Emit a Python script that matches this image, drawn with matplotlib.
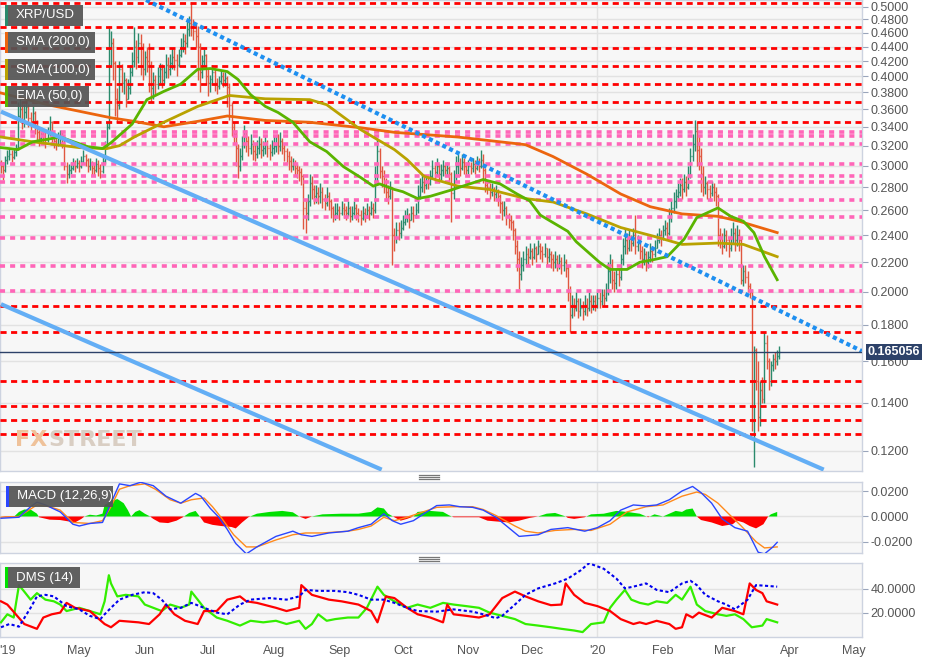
import numpy as np
import matplotlib
matplotlib.use("Agg")
import matplotlib.pyplot as plt
from matplotlib.collections import LineCollection
from matplotlib.patches import Rectangle
from matplotlib.lines import Line2D
from matplotlib.ticker import NullLocator

plt.rcParams['font.family'] = ['Liberation Sans', 'DejaVu Sans']

# ------------------------------------------------------------
# Daily XRP/USD bars, day 0 = 2019-03-25 (open = previous close)
# ------------------------------------------------------------
START = '2019-03-25'
first_open = 0.304
closes = [
    0.300, 0.296, 0.306, 0.310, 0.312, 0.309, 0.314, 0.318, 0.352, 0.360,
    0.348, 0.356, 0.362, 0.350, 0.342, 0.355, 0.346, 0.334, 0.328, 0.332,
    0.330, 0.326, 0.334, 0.345, 0.332, 0.325, 0.322, 0.328, 0.330, 0.326,
    0.300, 0.292, 0.296, 0.298, 0.302, 0.300, 0.303, 0.300, 0.305, 0.310,
    0.306, 0.300, 0.303, 0.298, 0.296, 0.302, 0.298, 0.295, 0.305, 0.318,
    0.340, 0.438, 0.445, 0.418, 0.372, 0.365, 0.410, 0.392, 0.395, 0.372,
    0.385, 0.405, 0.420, 0.440, 0.425, 0.445, 0.440, 0.410, 0.425, 0.420,
    0.415, 0.385, 0.395, 0.390, 0.400, 0.410, 0.395, 0.405, 0.415, 0.410,
    0.418, 0.425, 0.422, 0.415, 0.428, 0.440, 0.448, 0.445, 0.465, 0.475,
    0.470, 0.462, 0.455, 0.440, 0.405, 0.420, 0.428, 0.400, 0.392, 0.396,
    0.405, 0.392, 0.388, 0.394, 0.400, 0.395, 0.398, 0.386, 0.365, 0.340,
    0.332, 0.318, 0.300, 0.310, 0.322, 0.330, 0.325, 0.318, 0.322, 0.315,
    0.312, 0.318, 0.322, 0.316, 0.318, 0.322, 0.318, 0.314, 0.318, 0.320,
    0.322, 0.320, 0.325, 0.318, 0.315, 0.310, 0.305, 0.300, 0.302, 0.298,
    0.296, 0.294, 0.290, 0.262, 0.258, 0.268, 0.284, 0.278, 0.272, 0.275,
    0.272, 0.276, 0.270, 0.266, 0.272, 0.268, 0.262, 0.256, 0.258, 0.260,
    0.258, 0.262, 0.260, 0.258, 0.262, 0.255, 0.258, 0.262, 0.258, 0.256,
    0.254, 0.258, 0.256, 0.260, 0.258, 0.262, 0.260, 0.290, 0.315, 0.295,
    0.290, 0.282, 0.276, 0.272, 0.280, 0.240, 0.238, 0.244, 0.242, 0.246,
    0.250, 0.254, 0.256, 0.252, 0.258, 0.256, 0.260, 0.272, 0.280, 0.285,
    0.282, 0.285, 0.284, 0.290, 0.298, 0.294, 0.300, 0.292, 0.296, 0.300,
    0.296, 0.298, 0.292, 0.275, 0.290, 0.300, 0.302, 0.298, 0.304, 0.300,
    0.296, 0.300, 0.298, 0.302, 0.298, 0.304, 0.300, 0.306, 0.296, 0.282,
    0.280, 0.276, 0.278, 0.274, 0.276, 0.272, 0.266, 0.260, 0.262, 0.256,
    0.252, 0.250, 0.244, 0.232, 0.222, 0.212, 0.218, 0.222, 0.226, 0.224,
    0.228, 0.224, 0.230, 0.226, 0.232, 0.228, 0.226, 0.230, 0.224, 0.226,
    0.222, 0.220, 0.222, 0.219, 0.221, 0.218, 0.220, 0.216, 0.200, 0.186,
    0.192, 0.190, 0.194, 0.188, 0.190, 0.188, 0.192, 0.190, 0.194, 0.192,
    0.194, 0.192, 0.196, 0.194, 0.198, 0.196, 0.200, 0.214, 0.218, 0.208,
    0.206, 0.212, 0.210, 0.222, 0.232, 0.236, 0.230, 0.238, 0.234, 0.240,
    0.232, 0.236, 0.228, 0.222, 0.226, 0.220, 0.224, 0.228, 0.226, 0.230,
    0.236, 0.240, 0.238, 0.244, 0.246, 0.242, 0.254, 0.262, 0.268, 0.272,
    0.276, 0.282, 0.278, 0.285, 0.280, 0.292, 0.310, 0.322, 0.335, 0.316,
    0.310, 0.292, 0.280, 0.284, 0.278, 0.275, 0.280, 0.276, 0.272, 0.240,
    0.238, 0.232, 0.240, 0.236, 0.230, 0.238, 0.242, 0.236, 0.240, 0.236,
    0.208, 0.214, 0.210, 0.204, 0.200, 0.132, 0.166, 0.150, 0.134, 0.146,
    0.142, 0.170, 0.160, 0.150, 0.158, 0.161, 0.160, 0.163, 0.165,
]
highs = [
    0.306, 0.304, 0.310, 0.316, 0.318, 0.316, 0.318, 0.322, 0.368, 0.372,
    0.368, 0.366, 0.370, 0.366, 0.356, 0.364, 0.358, 0.348, 0.338, 0.340,
    0.336, 0.334, 0.340, 0.352, 0.346, 0.334, 0.330, 0.334, 0.336, 0.334,
    0.322, 0.304, 0.302, 0.304, 0.308, 0.306, 0.308, 0.306, 0.310, 0.316,
    0.312, 0.308, 0.308, 0.305, 0.303, 0.308, 0.306, 0.302, 0.312, 0.325,
    0.345, 0.470, 0.462, 0.452, 0.420, 0.385, 0.420, 0.416, 0.405, 0.398,
    0.396, 0.415, 0.432, 0.468, 0.450, 0.460, 0.458, 0.445, 0.434, 0.440,
    0.445, 0.420, 0.405, 0.402, 0.412, 0.418, 0.416, 0.412, 0.430, 0.425,
    0.430, 0.438, 0.436, 0.430, 0.436, 0.452, 0.460, 0.458, 0.478, 0.485,
    0.508, 0.480, 0.475, 0.470, 0.445, 0.428, 0.436, 0.430, 0.410, 0.402,
    0.415, 0.410, 0.398, 0.400, 0.408, 0.405, 0.406, 0.400, 0.392, 0.368,
    0.345, 0.336, 0.322, 0.318, 0.330, 0.342, 0.336, 0.330, 0.332, 0.326,
    0.322, 0.326, 0.330, 0.328, 0.325, 0.330, 0.326, 0.322, 0.326, 0.330,
    0.330, 0.332, 0.334, 0.328, 0.322, 0.318, 0.315, 0.310, 0.308, 0.306,
    0.302, 0.300, 0.298, 0.292, 0.270, 0.274, 0.292, 0.290, 0.282, 0.282,
    0.280, 0.284, 0.280, 0.274, 0.280, 0.276, 0.270, 0.264, 0.266, 0.266,
    0.264, 0.268, 0.266, 0.264, 0.268, 0.264, 0.264, 0.268, 0.265, 0.262,
    0.260, 0.264, 0.262, 0.266, 0.264, 0.268, 0.266, 0.300, 0.328, 0.318,
    0.300, 0.296, 0.288, 0.282, 0.286, 0.278, 0.246, 0.250, 0.250, 0.252,
    0.256, 0.260, 0.262, 0.258, 0.264, 0.264, 0.266, 0.282, 0.288, 0.292,
    0.292, 0.290, 0.290, 0.296, 0.306, 0.304, 0.308, 0.302, 0.302, 0.306,
    0.302, 0.304, 0.300, 0.294, 0.296, 0.310, 0.312, 0.308, 0.312, 0.308,
    0.304, 0.306, 0.304, 0.308, 0.306, 0.310, 0.308, 0.316, 0.312, 0.298,
    0.286, 0.284, 0.284, 0.280, 0.282, 0.278, 0.274, 0.268, 0.268, 0.264,
    0.258, 0.256, 0.252, 0.246, 0.236, 0.228, 0.224, 0.228, 0.232, 0.230,
    0.234, 0.230, 0.234, 0.232, 0.236, 0.234, 0.232, 0.234, 0.230, 0.230,
    0.228, 0.226, 0.228, 0.225, 0.226, 0.224, 0.226, 0.222, 0.218, 0.204,
    0.198, 0.196, 0.200, 0.196, 0.196, 0.194, 0.198, 0.196, 0.200, 0.198,
    0.198, 0.198, 0.200, 0.200, 0.202, 0.202, 0.206, 0.220, 0.226, 0.222,
    0.214, 0.216, 0.216, 0.226, 0.238, 0.246, 0.242, 0.244, 0.240, 0.246,
    0.256, 0.240, 0.238, 0.232, 0.230, 0.228, 0.228, 0.234, 0.232, 0.236,
    0.242, 0.246, 0.244, 0.248, 0.252, 0.250, 0.262, 0.270, 0.276, 0.278,
    0.284, 0.288, 0.288, 0.292, 0.290, 0.300, 0.318, 0.332, 0.348, 0.345,
    0.330, 0.318, 0.300, 0.290, 0.286, 0.282, 0.286, 0.284, 0.280, 0.274,
    0.246, 0.242, 0.246, 0.244, 0.238, 0.246, 0.250, 0.246, 0.248, 0.245,
    0.238, 0.218, 0.218, 0.214, 0.206, 0.202, 0.168, 0.167, 0.160, 0.150,
    0.152, 0.176, 0.174, 0.162, 0.160, 0.164, 0.165, 0.166, 0.168,
]
lows = [
    0.293, 0.287, 0.294, 0.302, 0.306, 0.304, 0.307, 0.310, 0.316, 0.345,
    0.338, 0.340, 0.350, 0.340, 0.334, 0.340, 0.332, 0.326, 0.320, 0.324,
    0.322, 0.318, 0.324, 0.330, 0.322, 0.318, 0.316, 0.320, 0.322, 0.318,
    0.296, 0.284, 0.288, 0.292, 0.296, 0.294, 0.298, 0.294, 0.298, 0.302,
    0.300, 0.294, 0.296, 0.290, 0.290, 0.294, 0.290, 0.288, 0.293, 0.302,
    0.322, 0.338, 0.412, 0.395, 0.352, 0.345, 0.360, 0.380, 0.378, 0.362,
    0.372, 0.378, 0.400, 0.412, 0.410, 0.418, 0.402, 0.395, 0.402, 0.405,
    0.380, 0.368, 0.372, 0.378, 0.384, 0.392, 0.385, 0.390, 0.398, 0.398,
    0.402, 0.410, 0.408, 0.400, 0.412, 0.425, 0.432, 0.430, 0.440, 0.455,
    0.455, 0.450, 0.440, 0.395, 0.380, 0.398, 0.412, 0.390, 0.375, 0.380,
    0.390, 0.382, 0.378, 0.384, 0.390, 0.386, 0.388, 0.362, 0.348, 0.330,
    0.322, 0.300, 0.288, 0.295, 0.306, 0.318, 0.314, 0.310, 0.312, 0.306,
    0.305, 0.308, 0.312, 0.308, 0.310, 0.312, 0.309, 0.306, 0.310, 0.312,
    0.314, 0.312, 0.315, 0.312, 0.305, 0.302, 0.296, 0.294, 0.296, 0.290,
    0.288, 0.286, 0.282, 0.245, 0.242, 0.252, 0.264, 0.270, 0.265, 0.266,
    0.265, 0.266, 0.262, 0.260, 0.264, 0.260, 0.254, 0.250, 0.252, 0.254,
    0.252, 0.256, 0.254, 0.252, 0.255, 0.250, 0.252, 0.255, 0.252, 0.250,
    0.248, 0.252, 0.250, 0.254, 0.252, 0.256, 0.254, 0.258, 0.282, 0.288,
    0.280, 0.275, 0.268, 0.265, 0.270, 0.218, 0.228, 0.234, 0.236, 0.238,
    0.244, 0.248, 0.250, 0.246, 0.252, 0.250, 0.254, 0.258, 0.270, 0.276,
    0.275, 0.278, 0.278, 0.282, 0.288, 0.286, 0.290, 0.284, 0.287, 0.290,
    0.290, 0.290, 0.284, 0.250, 0.270, 0.286, 0.292, 0.290, 0.296, 0.292,
    0.290, 0.292, 0.292, 0.294, 0.292, 0.296, 0.294, 0.298, 0.284, 0.276,
    0.274, 0.270, 0.272, 0.268, 0.270, 0.264, 0.258, 0.252, 0.255, 0.248,
    0.246, 0.244, 0.236, 0.226, 0.214, 0.202, 0.208, 0.214, 0.218, 0.218,
    0.222, 0.218, 0.222, 0.220, 0.226, 0.222, 0.220, 0.224, 0.218, 0.220,
    0.216, 0.214, 0.216, 0.214, 0.215, 0.212, 0.214, 0.210, 0.194, 0.176,
    0.184, 0.185, 0.188, 0.184, 0.185, 0.183, 0.186, 0.185, 0.188, 0.187,
    0.189, 0.188, 0.190, 0.190, 0.192, 0.191, 0.194, 0.198, 0.206, 0.202,
    0.200, 0.202, 0.204, 0.208, 0.218, 0.226, 0.226, 0.228, 0.228, 0.232,
    0.226, 0.228, 0.222, 0.216, 0.218, 0.214, 0.216, 0.220, 0.220, 0.224,
    0.230, 0.234, 0.232, 0.236, 0.240, 0.236, 0.240, 0.250, 0.258, 0.262,
    0.268, 0.272, 0.270, 0.276, 0.272, 0.278, 0.288, 0.305, 0.315, 0.300,
    0.296, 0.276, 0.272, 0.274, 0.270, 0.268, 0.272, 0.268, 0.264, 0.232,
    0.230, 0.226, 0.230, 0.228, 0.224, 0.228, 0.234, 0.228, 0.232, 0.228,
    0.205, 0.204, 0.206, 0.200, 0.196, 0.128, 0.114, 0.146, 0.128, 0.130,
    0.140, 0.140, 0.156, 0.146, 0.148, 0.155, 0.156, 0.158, 0.161,
]
last_price = 0.165056

# moving averages (day, value)
sma200_days = [0, 22, 52, 63, 77, 93, 107, 125, 146, 170, 186, 216, 248, 261, 277, 293, 307, 322, 339, 349, 367]
sma200_vals = [0.379, 0.365, 0.350, 0.346, 0.340, 0.346, 0.352, 0.347, 0.345, 0.339, 0.334, 0.329, 0.321,
               0.309, 0.292, 0.274, 0.263, 0.257, 0.255, 0.251, 0.242]
sma100_days = [0, 15, 37, 50, 56, 63, 77, 93, 108, 125, 146, 154, 170, 186, 192, 200, 216, 231, 248, 261,
               277, 293, 309, 322, 339, 351, 367]
sma100_vals = [0.329, 0.324, 0.318, 0.317, 0.320, 0.329, 0.345, 0.363, 0.376, 0.372, 0.371, 0.365, 0.337,
               0.316, 0.306, 0.290, 0.281, 0.278, 0.270, 0.267, 0.257, 0.246, 0.239, 0.233, 0.234, 0.233, 0.224]
ema50_days = [0, 8, 15, 28, 41, 48, 52, 62, 69, 77, 85, 93, 99, 107, 112, 118, 125, 131, 138, 146, 154, 162,
              170, 176, 179, 186, 190, 197, 203, 212, 220, 228, 236, 244, 250, 255, 268, 272, 283, 288, 296,
              302, 309, 315, 323, 329, 339, 345, 351, 356, 361, 367]
ema50_vals = [0.318, 0.316, 0.324, 0.329, 0.319, 0.317, 0.323, 0.343, 0.371, 0.381, 0.390, 0.409, 0.410,
              0.406, 0.396, 0.377, 0.363, 0.356, 0.345, 0.324, 0.314, 0.299, 0.289, 0.281, 0.283, 0.278,
              0.276, 0.270, 0.272, 0.277, 0.282, 0.287, 0.283, 0.274, 0.268, 0.256, 0.243, 0.235, 0.220,
              0.215, 0.215, 0.220, 0.222, 0.224, 0.237, 0.254, 0.262, 0.255, 0.251, 0.242, 0.224, 0.208]

# support / resistance levels
red_levels = [0.5065, 0.469, 0.4384, 0.4138, 0.3906, 0.3687, 0.3458, 0.1911, 0.1758, 0.1502, 0.1386,
              0.1325, 0.1267]
pink_levels = [0.3349, 0.3296, 0.3212, 0.3013, 0.2899, 0.2844, 0.2684, 0.2542, 0.2376, 0.2172, 0.2004]

# trend lines (day, price)
channel_top_days = [0, 389]
channel_top_prices = [0.357, 0.113]
channel_low_days = [0, 180]
channel_low_prices = [0.1923, 0.113]
down_trend_days = [68.6, 407]
down_trend_prices = [0.511, 0.1654]

# MACD (12,26,9)
macd_days = [0, 8.5, 14, 17, 21, 28, 34, 37, 42, 48, 52, 56, 61, 66, 72, 78, 85, 92, 94.5, 99, 103, 107, 111,
             116, 121, 130, 138, 142, 147, 155, 164, 169, 175, 181, 185, 189, 195, 200, 206, 212, 217, 223,
             228, 234, 240, 245, 254, 260, 268, 276, 282, 288, 293, 299, 305, 310, 316, 322, 327, 331, 336,
             341, 347, 353, 358, 361, 365, 367]
macd_vals = [-0.0014, -0.0006, 0.0077, 0.0113, 0.0091, 0.0036, -0.0061, -0.0075, -0.0055, -0.0047, 0.0105,
             0.0257, 0.0243, 0.0270, 0.0243, 0.0160, 0.0105, 0.0182, 0.0160, 0.0063, -0.0006, -0.0102,
             -0.0213, -0.0295, -0.0240, -0.0157, -0.0116, -0.0144, -0.0157, -0.0130, -0.0116, -0.0088,
             -0.0061, 0.0022, -0.0033, -0.0061, -0.0033, 0.0022, 0.0086, 0.0091, 0.0077, 0.0072, 0.0050,
             -0.0006, -0.0088, -0.0157, -0.0144, -0.0102, -0.0088, -0.0116, -0.0088, -0.0033, 0.0050,
             0.0091, 0.0083, 0.0091, 0.0132, 0.0201, 0.0237, 0.0188, 0.0105, -0.0019, -0.0088, -0.0116,
             -0.0282, -0.0295, -0.0240, -0.0204]
signal_days = [0, 8.5, 17, 23, 28, 34, 42, 48, 52, 56, 61, 68, 73, 80, 85, 90, 96, 100, 104, 110, 116, 121,
               130, 138, 144, 152, 164, 169, 175, 181, 186, 192, 197, 206, 214, 223, 228, 234, 243, 248, 254,
               262, 271, 279, 288, 296, 305, 313, 322, 329, 333, 339, 344, 350, 357, 361, 367]
signal_vals = [-0.0006, 0.0, 0.0091, 0.0077, 0.0050, -0.0047, -0.0055, -0.0033, 0.0077, 0.0215, 0.0243,
               0.0257, 0.0215, 0.0132, 0.0105, 0.0132, 0.0146, 0.0077, -0.0006, -0.0144, -0.0240, -0.0240,
               -0.0185, -0.0144, -0.0130, -0.0130, -0.0116, -0.0102, -0.0075, -0.0006, -0.0033, -0.0006,
               0.0022, 0.0072, 0.0077, 0.0077, 0.0055, 0.0008, -0.0075, -0.0116, -0.0130, -0.0110, -0.0102,
               -0.0110, -0.0061, 0.0036, 0.0077, 0.0091, 0.0160, 0.0193, 0.0174, 0.0105, 0.0022, -0.0075,
               -0.0199, -0.0248, -0.0240]
hist_days = [0, 5.6, 8.5, 11, 14, 17, 18, 23, 28, 32, 35, 38, 39.5, 42, 45, 48, 49, 52, 55, 58, 60, 61.5,
             63.5, 65.5, 68, 70.5, 72, 75, 79, 83, 86, 89, 92, 94, 96, 100, 104, 109, 111, 114, 117, 121,
             127, 133, 138, 141, 144, 147, 152, 161, 169, 175, 178, 181, 183, 186, 189, 192, 195, 197, 203,
             209, 212, 214, 220, 226, 230, 234, 240, 245, 250, 254, 258, 262, 267, 268, 271, 276, 279, 285,
             291, 296, 302, 306, 309, 313, 316, 319, 322, 324, 327, 329, 331, 336, 341, 346, 348, 351, 354,
             357, 360.5, 362.5, 364, 367]
hist_vals = [0, -0.0011, 0.0036, 0.0055, 0.0055, 0.0022, -0.0006, -0.0025, -0.0028, -0.0039, -0.0047,
             -0.0019, 0, 0.0014, 0.0008, 0.0022, 0.0091, 0.0119, 0.0138, 0.0105, 0.0050, 0, 0.0036, 0.0050,
             0.0022, 0, -0.0019, -0.0047, -0.0052, -0.0033, -0.0006, 0.0028, 0.0044, 0, -0.0047, -0.0066,
             -0.0075, -0.0083, -0.0094, -0.0047, -0.0006, 0.0022, 0.0036, 0.0044, 0.0033, 0, -0.0019, 0,
             0.0017, 0.0022, 0.0022, 0.0036, 0.0072, 0.0063, 0.0022, -0.0006, -0.0033, -0.0019, 0, 0.0036,
             0.0044, 0.0036, 0.0008, -0.0006, -0.0006, -0.0006, -0.0033, -0.0039, -0.0047, -0.0033, -0.0011,
             0, 0.0022, 0.0028, 0, -0.0011, -0.0019, -0.0006, 0.0017, 0.0022, 0.0044, 0.0036, 0.0022,
             -0.0006, 0.0017, 0, 0.0022, 0.0044, 0.0036, 0.0055, 0.0063, 0, -0.0028, -0.0047, -0.0075,
             -0.0061, -0.0033, -0.0047, -0.0075, -0.0094, -0.0061, -0.0006, 0.0017, 0.0036]

# DMS (14)
adx_days = [0, 4, 8.5, 14, 17, 21, 25, 28, 31, 37, 42, 47, 49, 52, 56, 62, 68, 72, 76, 80, 85, 90, 96, 102,
            107, 113, 118, 127, 135, 141, 144, 150, 158, 164, 169, 175, 181, 186, 192, 197, 206, 214, 223,
            228, 234, 237, 243, 248, 254, 262, 268, 274, 278, 285, 291, 295, 299, 305, 310, 316, 322, 326,
            329, 333, 339, 343, 347, 353, 357, 361, 367]
adx_vals = [8.1, 10.8, 8.6, 24.3, 33.8, 35.1, 33.8, 29.7, 25.7, 23.0, 17.6, 14.9, 18.9, 24.3, 31.1, 35.1,
            37.3, 36.5, 31.1, 23.0, 24.3, 28.4, 24.3, 20.3, 18.9, 27.0, 31.1, 32.4, 31.1, 33.8, 39.2, 38.4,
            38.4, 37.3, 35.1, 31.1, 31.1, 28.4, 24.3, 21.6, 21.1, 23.0, 21.1, 18.9, 15.7, 17.6, 27.0, 35.1,
            40.5, 44.6, 48.6, 55.4, 61.4, 56.8, 48.6, 40.5, 41.9, 44.6, 39.2, 37.3, 44.6, 46.8, 43.2, 35.1,
            29.7, 27.0, 23.0, 31.1, 43.2, 42.7, 41.9]
dmi_minus_days = [0, 3, 7, 11, 17, 20, 24, 28, 31, 35, 42, 49, 52, 56, 65, 70, 75, 78, 82, 87, 93, 96, 102,
                  107, 113, 116, 121, 130, 135, 141, 142, 147, 155, 161, 169, 175, 178, 182, 186, 192, 197,
                  203, 209, 211, 214, 220, 226, 231, 237, 243, 248, 254, 260, 265, 267, 271, 276, 282, 288,
                  293, 299, 302, 305, 310, 316, 319, 322, 324, 327, 330, 336, 341, 347, 351, 354, 357, 360,
                  362, 367]
dmi_minus_vals = [29.7, 27.0, 18.9, 10.8, 6.8, 16.2, 18.9, 20.3, 28.4, 24.3, 21.6, 10.8, 8.1, 13.5, 12.2,
                  10.8, 18.9, 27.0, 18.9, 13.5, 10.8, 21.6, 21.6, 31.1, 33.8, 29.7, 28.4, 24.3, 21.6, 24.3,
                  43.2, 35.1, 31.1, 29.7, 27.0, 21.6, 12.2, 33.8, 32.4, 24.3, 18.9, 16.2, 12.2, 27.0, 18.9,
                  17.6, 16.2, 18.9, 32.4, 37.8, 33.8, 29.7, 26.5, 27.0, 44.6, 35.1, 28.4, 25.7, 21.6, 14.9,
                  10.8, 12.2, 10.8, 13.5, 10.8, 6.8, 8.1, 18.9, 16.2, 20.3, 16.2, 24.3, 21.6, 18.9, 44.6,
                  39.2, 36.5, 29.7, 27.0]
dmi_plus_days = [0, 3, 6, 8.5, 11, 14, 17, 21, 25, 28, 31, 37, 42, 47, 49, 51, 52, 55, 59, 65, 68, 72, 76,
                 80, 85, 89, 90, 93, 96, 102, 107, 113, 118, 124, 130, 135, 141, 144, 147, 150, 154, 158, 164,
                 169, 173, 178, 181, 186, 192, 197, 203, 209, 214, 220, 226, 231, 237, 243, 248, 254, 260,
                 265, 271, 275, 279, 285, 288, 291, 295, 298, 302, 306, 310, 315, 319, 322, 326, 329, 333,
                 339, 343, 347, 351, 355, 360, 362, 367]
dmi_plus_vals = [12.2, 18.9, 16.2, 43.2, 37.8, 31.1, 36.5, 31.1, 29.7, 27.0, 21.6, 24.3, 21.6, 18.9, 29.7,
                 51.4, 44.6, 33.8, 35.1, 33.8, 27.0, 24.3, 21.6, 27.0, 24.3, 27.0, 37.8, 31.1, 24.3, 16.2,
                 13.5, 9.5, 13.5, 12.2, 13.5, 10.8, 13.5, 6.8, 10.8, 18.9, 13.5, 14.9, 16.2, 16.2, 24.3,
                 41.9, 35.1, 29.7, 24.3, 27.0, 24.3, 28.4, 27.0, 25.7, 24.3, 20.3, 17.6, 14.9, 10.8, 9.5,
                 8.1, 6.8, 5.4, 4.1, 10.8, 12.2, 24.3, 31.1, 39.2, 31.1, 28.4, 27.0, 29.7, 28.4, 35.1, 31.1,
                 41.9, 27.0, 21.6, 18.9, 17.6, 18.9, 14.9, 8.1, 9.5, 14.9, 12.2]

# x axis labels
tick_dates = ['2019-03-28', '2019-05-01', '2019-06-01', '2019-07-01', '2019-08-01', '2019-09-01',
              '2019-10-01', '2019-11-01', '2019-12-01', '2020-01-01', '2020-02-01', '2020-03-01',
              '2020-04-01', '2020-05-01']
tick_labels = ["'19", 'May', 'Jun', 'Jul', 'Aug', 'Sep', 'Oct', 'Nov', 'Dec', "'20", 'Feb', 'Mar', 'Apr', 'May']

price_ticks = [0.12, 0.14, 0.16, 0.18, 0.20, 0.22, 0.24, 0.26, 0.28, 0.30, 0.32, 0.34, 0.36, 0.38, 0.40,
               0.42, 0.44, 0.46, 0.48, 0.50]

# ------------------------------------------------------------
# figure layout (pixel based)
# ------------------------------------------------------------
W, H = 940, 662
fig = plt.figure(figsize=(W / 100, H / 100), dpi=100)
fig.patch.set_facecolor('white')


def px_rect(x0, y0, x1, y1):
    return [x0 / W, 1 - y1 / H, (x1 - x0) / W, (y1 - y0) / H]


def fx(x):
    return x / W


def fy(y):
    return 1 - y / H


ax = fig.add_axes(px_rect(0, 0, 862, 471))
ax_macd = fig.add_axes(px_rect(0, 482, 862, 553))
ax_dms = fig.add_axes(px_rect(0, 563, 862, 637))

day_of = lambda d: (np.datetime64(d) - np.datetime64(START)).astype(int)
jan1 = day_of('2020-01-01')
XMIN, XMAX = -0.47, 407.1

for a in (ax, ax_macd, ax_dms):
    a.set_facecolor('#f7f7f7')
    for s in a.spines.values():
        s.set_color('#cdd3e0')
        s.set_linewidth(1)
    a.yaxis.tick_right()
    a.tick_params(axis='y', color='#9aa5bb', labelcolor='#555555', labelsize=9, length=4,
                  width=0.8, pad=2)
    a.tick_params(axis='x', length=0, labelbottom=False)
    a.grid(axis='y', color='#e2e2e2', lw=1)
    a.axvline(jan1, color='#e2e2e2', lw=1, zorder=0)
    a.set_axisbelow(True)
    a.set_xlim(XMIN, XMAX)

# ------------------------------------------------------------
# main price panel
# ------------------------------------------------------------
ax.set_yscale('log')
ax.set_ylim(0.1125, 0.511)
ax.set_yticks(price_ticks)
ax.yaxis.set_minor_locator(NullLocator())
ax.set_yticklabels(['%.4f' % t for t in price_ticks])

c = np.array(closes)
o = np.concatenate([[first_open], c[:-1]])
h = np.maximum(np.array(highs), np.maximum(o, c))
l = np.minimum(np.array(lows), np.minimum(o, c))
segs, cols = [], []
for i in range(len(c)):
    col = '#2a8a6c' if c[i] >= o[i] else '#e0573f'
    segs += [[(i, l[i]), (i, h[i])], [(i - 0.45, o[i]), (i, o[i])], [(i, c[i]), (i + 0.45, c[i])]]
    cols += [col] * 3
ax.add_collection(LineCollection(segs, colors=cols, linewidths=1.0, zorder=3))

for lv in pink_levels:
    ax.axhline(lv, color='#ff66b8', lw=2.6, ls=(0, (1.4, 1.4)), zorder=4)
for lv in red_levels:
    ax.axhline(lv, color='#ff0000', lw=2.0, ls=(0, (2.2, 1.6)), zorder=4)

ax.plot(sma200_days, sma200_vals, color='#ec650e', lw=2, zorder=5)
ax.plot(sma100_days, sma100_vals, color='#b9a200', lw=2, zorder=5)
ax.plot(ema50_days, ema50_vals, color='#5ab400', lw=2, zorder=5)

ax.plot(channel_top_days, channel_top_prices, color='#63aef5', lw=3, zorder=6, solid_capstyle='butt')
ax.plot(channel_low_days, channel_low_prices, color='#63aef5', lw=3, zorder=6, solid_capstyle='butt')
ax.plot(down_trend_days, down_trend_prices, color='#1e8ff0', lw=3, ls=(0, (1, 0.8)), zorder=6)

ax.axhline(last_price, color='#2d4269', lw=1, zorder=6)

# ------------------------------------------------------------
# MACD panel
# ------------------------------------------------------------
ax_macd.set_ylim(-0.0288, 0.0272)
ax_macd.set_yticks([0.02, 0.0, -0.02])
ax_macd.set_yticklabels(['0.0200', '0.0000', '-0.0200'])
hd = np.array(hist_days)
hv = np.array(hist_vals)
ax_macd.fill_between(hd, hv, 0, where=hv >= 0, color='#00e000', interpolate=True, lw=0, zorder=2)
ax_macd.fill_between(hd, hv, 0, where=hv <= 0, color='#ff0000', interpolate=True, lw=0, zorder=2)
ax_macd.plot(signal_days, signal_vals, color='#ff8a1c', lw=1, zorder=3)
ax_macd.plot(macd_days, macd_vals, color='#2a46ff', lw=1, zorder=3)

# ------------------------------------------------------------
# DMS panel
# ------------------------------------------------------------
ax_dms.set_ylim(0, 61.6)
ax_dms.set_yticks([20, 40])
ax_dms.set_yticklabels(['20.0000', '40.0000'])
ax_dms.plot(dmi_plus_days, dmi_plus_vals, color='#33ee00', lw=1.6, zorder=3)
ax_dms.plot(dmi_minus_days, dmi_minus_vals, color='#ff0000', lw=1.6, zorder=3)
ax_dms.plot(adx_days, adx_vals, color='#0000ee', lw=1.5, ls=(0, (1.5, 1.2)), zorder=3)

ax_dms.set_xticks([day_of(d) for d in tick_dates])
ax_dms.set_xticklabels(tick_labels)
ax_dms.tick_params(axis='x', labelbottom=True, labelsize=9, labelcolor='#555555', length=0, pad=6)

# ------------------------------------------------------------
# overlays: legend boxes, price tag, panel handles, watermark
# ------------------------------------------------------------
def label_box(x0, y0, x1, y1, strip, text):
    fig.add_artist(Rectangle((fx(x0), fy(y1)), (x1 - x0) / W, (y1 - y0) / H, transform=fig.transFigure,
                             facecolor='#555555', alpha=0.93, edgecolor='none', zorder=20))
    fig.add_artist(Rectangle((fx(x0), fy(y1)), 2.5 / W, (y1 - y0) / H, transform=fig.transFigure,
                             facecolor=strip, edgecolor='none', zorder=21))
    fig.text(fx(x0 + 11), fy((y0 + y1) / 2), text, color='white', fontsize=9.5, ha='left',
             va='center', zorder=22)


label_box(5, 5, 83, 26, '#2a8a6c', 'XRP/USD')
label_box(5, 32, 95, 53, '#ec650e', 'SMA (200,0)')
label_box(5, 59, 95, 80, '#b9a200', 'SMA (100,0)')
label_box(5, 86, 89, 107, '#5ab400', 'EMA (50,0)')
label_box(6, 486, 113, 507, '#2a46ff', 'MACD (12,26,9)')
label_box(5, 567, 80, 588, '#00e000', 'DMS (14)')

fig.add_artist(Rectangle((fx(866), fy(360)), 56 / W, 16 / H, transform=fig.transFigure,
                         facecolor='#2d4269', edgecolor='none', zorder=20))
fig.text(fx(894), fy(352), '%.6f' % last_price, color='white', fontsize=9, fontweight='bold',
         ha='center', va='center', zorder=21)

for yy in (475, 477, 479, 557, 559, 561):
    fig.add_artist(Line2D([fx(419), fx(439)], [fy(yy), fy(yy)], transform=fig.transFigure,
                          color='#777777', lw=0.9))

# FXSTREET watermark: "STREET" placed right after the measured end of "FX"
wm_fx = fig.text(fx(15), fy(440), 'FX', color='#efc29a', fontsize=16, fontweight='bold',
                 family='DejaVu Sans', va='center', ha='left', zorder=2)
renderer = fig.canvas.get_renderer()
fx_end = wm_fx.get_window_extent(renderer).x1
fig.text(fx_end / W + 1.5 / W, fy(440), 'STREET', color='#d9cec3', fontsize=16, fontweight='bold',
         family='DejaVu Sans', va='center', ha='left', zorder=2)

fig.savefig('out.png', dpi=100, facecolor='white')
